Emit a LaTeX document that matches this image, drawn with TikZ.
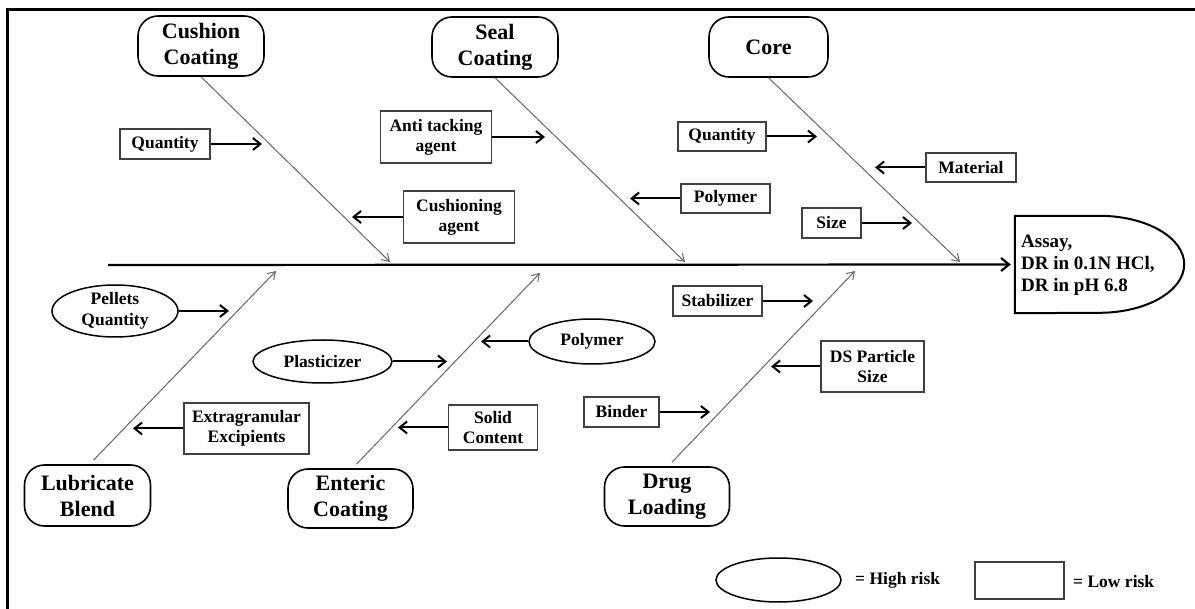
\documentclass[tikz,border=0pt]{standalone}
\usepackage{fontspec}
\setmainfont{Liberation Serif}
\usetikzlibrary{arrows.meta,shapes.geometric}
\begin{document}
\begin{tikzpicture}[x=1pt,y=-1pt,
  lowbox/.style={draw=black!75,line width=1.3pt,align=center,inner sep=0pt,
    font=\fontsize{17.5}{20}\selectfont\bfseries},
  hibox/.style={ellipse,draw=black,line width=1.5pt,align=center,inner sep=0pt,
    font=\fontsize{17.5}{20.5}\selectfont\bfseries},
  catbox/.style={draw=black,line width=1.6pt,rounded corners=20pt,align=center,inner sep=0pt,
    minimum width=126pt,minimum height=60pt,font=\fontsize{22}{26}\selectfont\bfseries},
  rib/.style={draw=black!60,line width=1pt,-{Straight Barb[length=7pt,width=9pt]}},
  barrow/.style={draw=black,line width=2pt,-{Straight Barb[length=7.5pt,width=12pt]}},
  spine/.style={draw=black,line width=2.2pt,-{Straight Barb[length=8pt,width=13pt]}},
  legtext/.style={anchor=west,inner sep=0pt,font=\fontsize{17.5}{20}\selectfont\bfseries}
]
\useasboundingbox (0,0) rectangle (1195,609);
% frame
\draw[line width=3pt] (6,9.7) -- (1195,9.7);
\draw[line width=3pt] (7.5,8.2) -- (7.5,609);

% categories
\node[catbox] (cc) at (201,46) {Cushion\\Coating};
\node[catbox] (sc) at (495,47) {Seal\\Coating};
\node[catbox,minimum width=119pt] (co) at (768.5,47) {Core};
\node[catbox,minimum height=61pt] (lb) at (87.5,495.5) {Lubricate\\Blend};
\node[catbox,minimum width=125pt,minimum height=59pt] (ec) at (350.5,498.5) {Enteric\\Coating};
\node[catbox,minimum width=125pt,minimum height=59pt] (dl) at (667,496.5) {Drug\\Loading};

% effect
\node[minimum width=84pt,minimum height=97pt,inner sep=0pt] (as) at (1057,264.5) {};
\draw[line width=2pt] (as.south west) -- (as.north west) -- (as.north east)
  .. controls +(47,0) and +(0,-26.8) .. ++(85,48.5)
  .. controls +(0,26.8) and +(47,0) .. ++(-85,48.5) -- cycle;
\node[anchor=west,align=left,inner sep=0pt,font=\fontsize{19}{22}\selectfont\bfseries]
  (ast) at (1021,265) {Assay,\\DR in 0.1N HCl,\\DR in pH 6.8};

% spine
\coordinate (sp0) at (108,265);
\draw[spine,shorten >=4pt] (sp0) -- (as.west);

% ribs
\coordinate (cce) at (390,262);
\coordinate (sce) at (685,262);
\coordinate (coe) at (960,262);
\coordinate (lbe) at (276,271);
\coordinate (ece) at (540,273);
\coordinate (dle) at (855,271);
\draw[rib] (cc.south) -- (cce);
\draw[rib] (sc.south) -- (sce);
\draw[rib] (co.south) -- (coe);
\draw[rib] ([shift={(6,-4)}]lb.north) -- (lbe);
\draw[rib] ([shift={(6,-4)}]ec.north) -- (ece);
\draw[rib] ([shift={(5,-4)}]dl.north) -- (dle);

% low-risk factors
\node[lowbox,minimum width=90pt,minimum height=30pt] (q1) at (165,144) {Quantity};
\node[lowbox,minimum width=111pt,minimum height=52pt] (at) at (436,137) {Anti tacking\\agent};
\node[lowbox,minimum width=111pt,minimum height=52pt] (ca) at (459,217) {Cushioning\\agent};
\node[lowbox,minimum width=88pt,minimum height=29pt] (q2) at (722,136.5) {Quantity};
\node[lowbox,minimum width=90pt,minimum height=29pt] (ma) at (971,167.5) {Material};
\node[lowbox,minimum width=89pt,minimum height=29pt] (p1) at (725.5,198.5) {Polymer};
\node[lowbox,minimum width=59pt,minimum height=30pt] (sz) at (831.5,223) {Size};
\node[lowbox,minimum width=125pt,minimum height=51pt] (ex) at (246.5,428.5) {Extragranular\\Excipients};
\node[lowbox,minimum width=89.5pt,minimum height=45pt] (sl) at (493,427.5) {Solid\\Content};
\node[lowbox,minimum width=75pt,minimum height=30pt] (bi) at (621.5,412) {Binder};
\node[lowbox,minimum width=89pt,minimum height=30pt] (st) at (717.5,301) {Stabilizer};
\node[lowbox,minimum width=103pt,minimum height=51pt] (ds) at (872.5,366.5) {DS Particle\\Size};

% high-risk factors
\node[hibox,minimum width=126pt,minimum height=52pt] (pq) at (115,311) {Pellets\\Quantity};
\node[hibox,minimum width=139pt,minimum height=43pt] (pl) at (322.5,361.5) {Plasticizer};
\node[hibox,minimum width=126pt,minimum height=45pt] (p2) at (592,341.5) {Polymer};

% factor arrows
\coordinate (q1e) at (262,144);
\coordinate (ate) at (545,137);
\coordinate (cae) at (352,217);
\coordinate (q2e) at (817,136.5);
\coordinate (mae) at (875,167.5);
\coordinate (p1e) at (630,198.5);
\coordinate (sze) at (912,223);
\coordinate (exe) at (133,428.5);
\coordinate (sle) at (398,427.5);
\coordinate (bie) at (710,412);
\coordinate (ste) at (813,301);
\coordinate (dse) at (771,366.5);
\coordinate (pqe) at (229,311);
\coordinate (ple) at (447,361.5);
\coordinate (p2e) at (481,341.5);
\foreach \n in {q1,at,ca,q2,ma,p1,sz,ex,sl,bi,st,ds,pq,pl,p2}
  \draw[barrow] (\n) -- (\n e);

% legend
\node[hibox,minimum width=125pt,minimum height=44pt] (lgh) at (778.5,580) {};
\node[legtext] (lght) at (855,580) {= High risk};
\node[lowbox,minimum width=89pt,minimum height=37pt] (lgl) at (1019.5,580.5) {};
\node[legtext] (lglt) at (1073,582) {= Low risk};
\end{tikzpicture}
\end{document}
